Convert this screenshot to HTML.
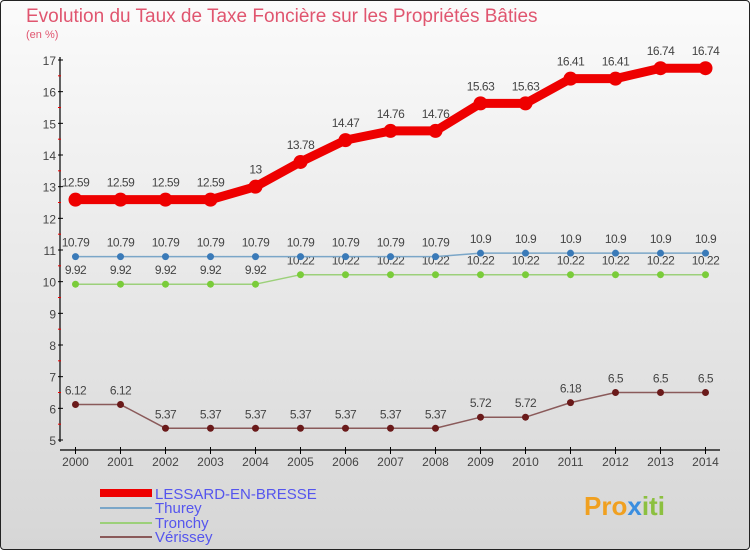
<!DOCTYPE html>
<html><head><meta charset="utf-8"><style>
html,body{margin:0;padding:0}
body{width:750px;height:550px;overflow:hidden;font-family:"Liberation Sans",sans-serif}
#wrap{position:absolute;left:0;top:0;width:748px;height:548px;border:1px solid #222;border-radius:4px;background:linear-gradient(#fbfbfb,#d6d6d6)}
</style></head><body>
<div id="wrap">
<svg id="chart" width="750" height="550" style="position:absolute;left:-1px;top:-1px" font-family="Liberation Sans, sans-serif">
<text x="26" y="22" font-size="19" fill="#e0556f">Evolution du Taux de Taxe Foncière sur les Propriétés Bâties</text>
<text x="26" y="38" font-size="11" fill="#e0556f">(en %)</text>
<g id="axes"></g><g id="series"></g>
<g>
<line x1="100" y1="493" x2="152" y2="493" stroke="#e00" stroke-width="8"/>
<text x="155" y="499" font-size="15" fill="#5555ee">LESSARD-EN-BRESSE</text>
<line x1="100" y1="508" x2="152" y2="508" stroke="#7aa6c8" stroke-width="2"/>
<text x="155" y="513" font-size="15" fill="#5555ee">Thurey</text>
<line x1="100" y1="523" x2="152" y2="523" stroke="#9cd07a" stroke-width="2"/>
<text x="155" y="528" font-size="15" fill="#5555ee">Tronchy</text>
<line x1="100" y1="537" x2="152" y2="537" stroke="#8a5a5a" stroke-width="2"/>
<text x="155" y="542" font-size="15" fill="#5555ee">Vérissey</text>
</g>
<g>
<text x="584" y="515" font-size="26" font-weight="bold" fill="#f0a020">Pro<tspan fill="#3a8ee0">x</tspan><tspan fill="#8cc040">iti</tspan></text>
</g>
</svg></div>
<script>
const years=[2000,2001,2002,2003,2004,2005,2006,2007,2008,2009,2010,2011,2012,2013,2014];
const lessard=[12.59,12.59,12.59,12.59,13,13.78,14.47,14.76,14.76,15.63,15.63,16.41,16.41,16.74,16.74];
const thurey=[10.79,10.79,10.79,10.79,10.79,10.79,10.79,10.79,10.79,10.9,10.9,10.9,10.9,10.9,10.9];
const tronchy=[9.92,9.92,9.92,9.92,9.92,10.22,10.22,10.22,10.22,10.22,10.22,10.22,10.22,10.22,10.22];
const verissey=[6.12,6.12,5.37,5.37,5.37,5.37,5.37,5.37,5.37,5.72,5.72,6.18,6.5,6.5,6.5];
const yTicks=[5,6,7,8,9,10,11,12,13,14,15,16,17];
const NS="http://www.w3.org/2000/svg";
const X=i=>75.5+i*45;
const Y=v=>60+(17-v)*(380/12);
function mk(tag,attrs,parent,txt){const e=document.createElementNS(NS,tag);for(const k in attrs)e.setAttribute(k,attrs[k]);if(txt!==undefined)e.textContent=txt;parent.appendChild(e);return e;}
const ax=document.getElementById('axes');
let e=mk('line',{x1:60,y1:57,x2:60,y2:442,stroke:'#000','stroke-width':1.2},ax);


e=mk('line',{x1:60,y1:450,x2:720,y2:450,stroke:'#000','stroke-width':1.2},ax);


yTicks.forEach(t=>{
 mk('line',{x1:58,y1:Y(t),x2:63,y2:Y(t),stroke:'#000'},ax);
 if(t<17)mk('line',{x1:58,y1:Y(t+0.5),x2:61,y2:Y(t+0.5),stroke:'#e00'},ax);
 const l=mk('text',{x:56,y:Y(t)+5,'font-size':12,'text-anchor':'end',fill:'#444'},ax,String(t));
 
 
});
years.forEach((yr,i)=>{
 mk('line',{x1:X(i),y1:447,x2:X(i),y2:454,stroke:'#000'},ax);
 const l=mk('text',{x:X(i),y:466,'font-size':12,'text-anchor':'middle',fill:'#444'},ax,String(yr));
 
 
});
const sg=document.getElementById('series');
function series(name,vals,color,w,r,dot,labOff){
 const g=mk('g',{},sg);
 
 
 mk('polyline',{points:vals.map((v,i)=>X(i)+','+Y(v)).join(' '),fill:'none',stroke:color,'stroke-width':w,'stroke-linejoin':'round'},g);
 vals.forEach((v,i)=>{
  const c=mk('circle',{cx:X(i),cy:Y(v),r:r,fill:dot},g);
  
  
  const t=mk('text',{x:X(i),y:Y(v)+labOff,'font-size':12,'text-anchor':'middle',fill:'#444','letter-spacing':'-0.5'},g,String(v));
  
  
 });
}
series('verissey',verissey,'#8a5a5a',1.5,3.5,'#6a1a1a',-10);
series('tronchy',tronchy,'#9cd07a',1.5,3.5,'#7acc3a',-10);
series('thurey',thurey,'#7aa6c8',1.5,3.5,'#3a7ab8',-10);
series('lessard',lessard,'#e00',9,7,'#e00',-13);
</script>
</body></html>
